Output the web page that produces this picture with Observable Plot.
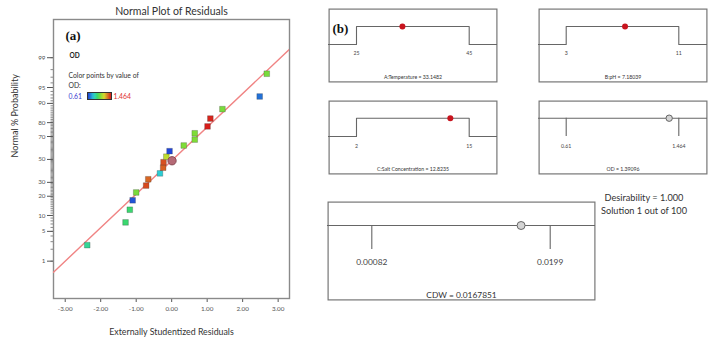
<!DOCTYPE html>
<html>
<head>
<meta charset="utf-8">
<script src="https://cdn.jsdelivr.net/npm/d3@7"></script>
<script src="https://cdn.jsdelivr.net/npm/@observablehq/plot@0.6"></script>
<style>
  body { margin: 0; background: #fff; }
  #fig { position: relative; width: 709px; height: 349px; overflow: hidden; background: #fff; font-family: Lato, "Open Sans", sans-serif; }
  #fig svg { overflow: visible; }
  .note { position: absolute; white-space: nowrap; color: #333; }
</style>
</head>
<body>
<div id="fig"></div>
<script>
// ---------- (a) Normal plot of residuals ----------
const residuals = [-2.38, -1.30, -1.18, -1.10, -1.00, -0.72, -0.66, -0.33, -0.24, -0.23,
                   -0.15, -0.06, 0.34, 0.65, 0.65, 1.01, 1.09, 1.43, 2.48, 2.68];
const probabilities = [2.5, 7.5, 12.5, 17.5, 22.5, 27.5, 32.5, 37.5, 42.5, 47.5,
                       52.5, 57.5, 62.5, 67.5, 72.5, 77.5, 82.5, 87.5, 92.5, 97.5];
const odValues = [0.90, 0.95, 0.95, 0.64, 1.06, 1.40, 1.36, 0.81, 1.37, 1.39,
                  1.16, 0.62, 1.07, 1.07, 1.07, 1.46, 1.45, 1.06, 0.68, 1.06];
const selectedResidual = [0.01];
const selectedProbability = [48.8];
const fitResiduals = [-3.33, 3.32];
const fitProbabilities = [0.496, 99.41];
const xTicks = [-3, -2, -1, 0, 1, 2, 3];
const probTicks = [1, 5, 10, 20, 30, 50, 70, 80, 90, 95, 99];
const minorProbTicks = d3.range(1, 100);
const odRange = [0.61, 1.464];

// ---------- (b) Desirability ramps ----------
const factorNames = ["A:Temperature", "B:pH", "C:Salt Concentration"];
const factorLow = [25, 3, 2];
const factorHigh = [45, 11, 15];
const factorOptimum = [33.1482, 7.18039, 12.8235];
const responseNames = ["OD", "CDW"];
const responseLow = [0.61, 0.00082];
const responseHigh = [1.464, 0.0199];
const responsePrediction = [1.39096, 0.0167851];
const desirability = "1.000";
const solutionIndex = 1;
const solutionCount = 100;

const FONT = 'Lato, "Open Sans", sans-serif';
const fig = document.getElementById("fig");

// inverse standard normal CDF (Acklam's rational approximation)
function probit(p) {
  const a = [-3.969683028665376e+01, 2.209460984245205e+02, -2.759285104469687e+02, 1.383577518672690e+02, -3.066479806614716e+01, 2.506628277459239e+00];
  const b = [-5.447609879822406e+01, 1.615858368580409e+02, -1.556989798598866e+02, 6.680131188771972e+01, -1.328068155288572e+01];
  const c = [-7.784894002430293e-03, -3.223964580411365e-01, -2.400758277161838e+00, -2.549732539343734e+00, 4.374664141464968e+00, 2.938163982698783e+00];
  const d = [7.784695709041462e-03, 3.224671290700398e-01, 2.445134137142996e+00, 3.754408661907416e+00];
  const pl = 0.02425, ph = 1 - pl;
  let q, r;
  if (p < pl) {
    q = Math.sqrt(-2 * Math.log(p));
    return (((((c[0]*q+c[1])*q+c[2])*q+c[3])*q+c[4])*q+c[5]) / ((((d[0]*q+d[1])*q+d[2])*q+d[3])*q+1);
  }
  if (p <= ph) {
    q = p - 0.5; r = q * q;
    return (((((a[0]*r+a[1])*r+a[2])*r+a[3])*r+a[4])*r+a[5])*q / (((((b[0]*r+b[1])*r+b[2])*r+b[3])*r+b[4])*r+1);
  }
  q = Math.sqrt(-2 * Math.log(1 - p));
  return -(((((c[0]*q+c[1])*q+c[2])*q+c[3])*q+c[4])*q+c[5]) / ((((d[0]*q+d[1])*q+d[2])*q+d[3])*q+1);
}
const zOf = (pct) => probit(pct / 100);

function place(el, left, top) {
  el.style.position = "absolute";
  el.style.left = left + "px";
  el.style.top = top + "px";
  fig.appendChild(el);
  return el;
}

const points = residuals.map((r, i) => ({r, p: probabilities[i], od: odValues[i]}));
const selected = selectedResidual.map((r, i) => ({r, p: selectedProbability[i]}));
const fitLine = fitResiduals.map((r, i) => ({r, p: fitProbabilities[i]}));

// blue -> cyan -> green -> yellow -> red ramp over the OD range
const colorStops = [odRange[0], 0.82, 0.97, 1.08, 1.2, odRange[1]];
const colorRange = ["#1f3fd8", "#2cd4d4", "#3cd860", "#86dc34", "#d8dc30", "#d81a1a"];

const probFormat = (v) => {
  const hit = probTicks.find((p) => Math.abs(zOf(p) - v) < 1e-9);
  return hit === undefined ? "" : String(hit);
};

const normalPlot = Plot.plot({
  width: 300,
  height: 349,
  marginLeft: 53,
  marginRight: 11,
  marginTop: 19,
  marginBottom: 51,
  style: {fontFamily: FONT, background: "transparent", overflow: "visible"},
  x: {domain: [-3.33, 3.32]},
  y: {domain: [-3.18, 3.20]},
  color: {type: "linear", domain: colorStops, range: colorRange, interpolate: "rgb"},
  marks: [
    Plot.axisX(xTicks, {tickSize: 4, tickPadding: 4, tickFormat: (d) => d.toFixed(2), fontSize: 6.3, color: "#555", label: null}),
    Plot.axisY(minorProbTicks.map(zOf), {tickSize: 2.5, tickFormat: () => "", color: "#888", label: null}),
    Plot.axisY(probTicks.map(zOf), {tickSize: 6, tickPadding: 2, tickFormat: probFormat, fontSize: 6.3, color: "#555", label: null}),
    Plot.frame({stroke: "#8a8a8a", strokeWidth: 1.4}),
    Plot.line(fitLine, {x: "r", y: (d) => zOf(d.p), stroke: "#f08484", strokeWidth: 1.4, clip: true}),
    Plot.dot(points, {x: "r", y: (d) => zOf(d.p), fill: "od", symbol: "square", r: 3.2, stroke: "#333", strokeOpacity: 0.45, strokeWidth: 0.6}),
    Plot.dot(selected, {x: "r", y: (d) => zOf(d.p), r: 4.2, fill: "#b56a76", stroke: "#7a3d48", strokeWidth: 0.8}),
    Plot.text(["Normal Plot of Residuals"], {frameAnchor: "top", dy: -8, lineAnchor: "middle", fontSize: 10.5, fill: "#333"}),
    Plot.text(["Externally Studentized Residuals"], {frameAnchor: "bottom", dy: 34, lineAnchor: "middle", fontSize: 8.8, fill: "#333"}),
    Plot.text(["Normal % Probability"], {frameAnchor: "left", dx: -38, dy: -1.5, rotate: -90, lineAnchor: "middle", fontSize: 9, fill: "#333"}),
    Plot.text(["(a)"], {frameAnchor: "top-left", dx: 12, dy: 16.5, lineAnchor: "middle", fontSize: 13, fontWeight: "bold", fontFamily: '"Liberation Serif", serif', fill: "#111"}),
    Plot.text(["OD"], {frameAnchor: "top-left", dx: 16, dy: 36, lineAnchor: "middle", fontSize: 6.5, fontWeight: "bold", fill: "#222"}),
    Plot.text(["Color points by value of"], {frameAnchor: "top-left", dx: 15, dy: 56, lineAnchor: "middle", fontSize: 6.8, fill: "#333"}),
    Plot.text(["OD:"], {frameAnchor: "top-left", dx: 15, dy: 66, lineAnchor: "middle", fontSize: 6.8, fill: "#333"}),
    Plot.text([String(odRange[0])], {frameAnchor: "top-left", dx: 15, dy: 77, lineAnchor: "middle", fontSize: 6.8, fill: "#3a3ad0"}),
    Plot.text([String(odRange[1])], {frameAnchor: "top-left", dx: 60, dy: 77, lineAnchor: "middle", fontSize: 6.8, fill: "#e03030"})
  ]
});
place(normalPlot, 0, 0);

// colour bar of the OD legend, sampled from the plot's own colour scale
const colorScale = normalPlot.scale("color");
const sample = d3.range(0, 1.0001, 0.1).map((t) => colorScale.apply(odRange[0] + t * (odRange[1] - odRange[0])));
const bar = document.createElement("div");
bar.style.width = "23px";
bar.style.height = "6px";
bar.style.border = "1px solid #333";
bar.style.background = `linear-gradient(to right, ${sample.join(",")})`;
place(bar, 87, 92);

// ---------- desirability panels ----------
function rampBox({left, top, width, height, lo, hi, value, name, kind, px, py, fontSize, labelDy, captionDy, tag}) {
  const marks = [Plot.frame({stroke: "#777", strokeWidth: 1.2, inset: 0.6})];
  if (kind === "factor") {
    const span = hi - lo;
    const step = [[lo - span, 0], [lo, 0], [lo, 1], [hi, 1], [hi, 0], [hi + span, 0]];
    marks.push(
      Plot.line(step, {x: "0", y: "1", stroke: "#666", strokeWidth: 1.1, clip: true}),
      Plot.dot([value], {x: (d) => d, y: () => 1, r: 3, fill: "#c8141e"})
    );
  } else {
    marks.push(
      Plot.ruleY([1], {stroke: "#666", strokeWidth: 1.1}),
      Plot.ruleX([lo, hi], {y1: 0, y2: 1, stroke: "#666", strokeWidth: 1.1}),
      Plot.dot([value], {x: (d) => d, y: () => 1, r: kind === "wide" ? 4 : 3.2, fill: "#d4d4d4", stroke: "#666", strokeWidth: 1})
    );
  }
  marks.push(
    Plot.text([lo, hi], {x: (d) => d, y: () => 0, dy: labelDy, text: (d) => String(d), lineAnchor: "middle", fontSize, fill: "#444"}),
    Plot.text([`${name} = ${value}`], {frameAnchor: "bottom", dy: captionDy, lineAnchor: "middle", fontSize, fill: "#333"})
  );
  if (tag) {
    marks.push(Plot.text([tag], {frameAnchor: "top-left", dx: 4, dy: 20.5, lineAnchor: "middle", fontSize: 13, fontWeight: "bold", fontFamily: '"Liberation Serif", serif', fill: "#111"}));
  }
  const chart = Plot.plot({
    width, height,
    marginLeft: 0, marginRight: 0, marginTop: 0, marginBottom: 0,
    style: {fontFamily: FONT, background: "transparent", overflow: "visible"},
    x: {domain: [lo, hi], range: px, axis: null},
    y: {domain: [0, 1], range: py, axis: null},
    marks
  });
  return place(chart, left, top);
}

rampBox({left: 328, top: 8, width: 169, height: 74, lo: factorLow[0], hi: factorHigh[0], value: factorOptimum[0], name: factorNames[0],
  kind: "factor", px: [28, 140.7], py: [36, 18], fontSize: 5.2, labelDy: 9.3, captionDy: -4.7, tag: "(b)"});
rampBox({left: 538, top: 8, width: 169, height: 74, lo: factorLow[1], hi: factorHigh[1], value: factorOptimum[1], name: factorNames[1],
  kind: "factor", px: [27.7, 140.3], py: [36, 18], fontSize: 5.2, labelDy: 9.3, captionDy: -4.7});
rampBox({left: 328, top: 100, width: 169, height: 74, lo: factorLow[2], hi: factorHigh[2], value: factorOptimum[2], name: factorNames[2],
  kind: "factor", px: [28, 140.7], py: [36, 17.7], fontSize: 5.2, labelDy: 9.7, captionDy: -5.3});
rampBox({left: 538, top: 100, width: 169, height: 74, lo: responseLow[0], hi: responseHigh[0], value: responsePrediction[0], name: responseNames[0],
  kind: "response", px: [27.7, 140.3], py: [36, 17.7], fontSize: 5.2, labelDy: 9.7, captionDy: -5.3});
rampBox({left: 327, top: 201, width: 268, height: 99, lo: responseLow[1], hi: responseHigh[1], value: responsePrediction[1], name: responseNames[1],
  kind: "wide", px: [44.3, 222.7], py: [48, 24], fontSize: 8.4, labelDy: 13, captionDy: -5});

// desirability summary beside the CDW panel
const summary = document.createElement("div");
summary.className = "note";
summary.style.width = "110px";
summary.style.textAlign = "center";
summary.style.fontSize = "9.2px";
summary.style.lineHeight = "13.3px";
summary.innerHTML = `Desirability = ${desirability}<br>Solution ${solutionIndex} out of ${solutionCount}`;
place(summary, 589, 191);
</script>
</body>
</html>
